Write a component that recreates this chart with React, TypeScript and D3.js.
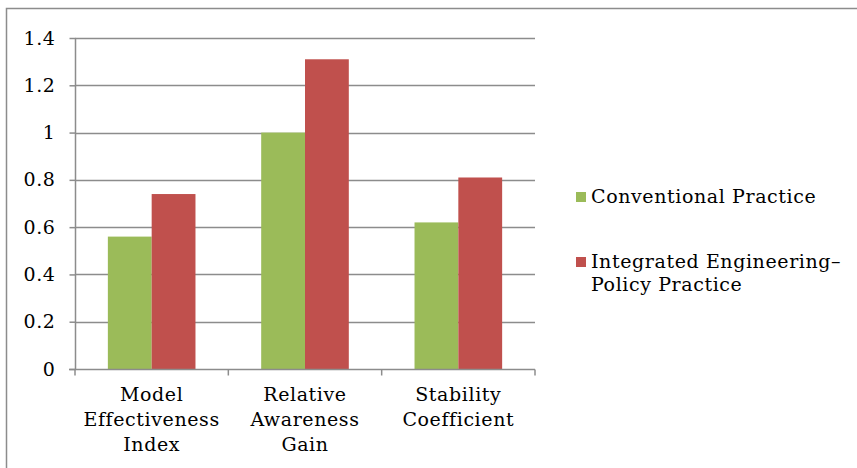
import React, { useEffect, useRef } from 'react';
import * as d3 from 'd3';

const categories = [
  ['Model', 'Effectiveness', 'Index'],
  ['Relative', 'Awareness', 'Gain'],
  ['Stability', 'Coefficient'],
];
const seriesNames = [['Conventional Practice'], ['Integrated Engineering–', 'Policy Practice']];
const conventional = [0.56, 1.0, 0.62];
const integrated = [0.74, 1.31, 0.81];
const yTicks = [0, 0.2, 0.4, 0.6, 0.8, 1, 1.2, 1.4];
const colors = ['#9bbb59', '#c0504d'];

const FONT = '"DejaVu Serif", serif';
const FS = 19;
const LS = 0.6;

function App() {
  const svgRef = useRef<SVGSVGElement | null>(null);

  useEffect(() => {
    const svg = d3.select(svgRef.current);
    svg.selectAll('*').remove();

    // chart frame
    svg.append('rect')
      .attr('x', 6.5).attr('y', 8.5)
      .attr('width', 900).attr('height', 500)
      .attr('fill', '#fff')
      .attr('stroke', '#8c8c8c')
      .attr('stroke-width', 1.5);

    const left = 75, right = 535, top = 38, bottom = 369;

    const x = d3.scaleBand<number>()
      .domain(d3.range(categories.length))
      .range([left, right]);
    const y = d3.scaleLinear().domain([0, 1.4]).range([bottom, top]);

    // gridlines
    svg.append('g')
      .selectAll('line')
      .data(yTicks.filter(t => t > 0))
      .enter()
      .append('line')
      .attr('x1', left).attr('x2', right)
      .attr('y1', d => Math.round(y(d)) + 0.5)
      .attr('y2', d => Math.round(y(d)) + 0.5)
      .attr('stroke', '#8c8c8c')
      .attr('stroke-width', 1.5);

    // bars
    const bw = x.bandwidth() / 3.5;
    const series = [conventional, integrated];
    series.forEach((vals, si) => {
      svg.append('g')
        .selectAll('rect')
        .data(vals)
        .enter()
        .append('rect')
        .attr('x', (d, i) => (x(i) as number) + bw * 0.75 + si * bw)
        .attr('width', bw)
        .attr('y', d => y(d))
        .attr('height', d => bottom - y(d))
        .attr('fill', colors[si]);
    });

    // y axis
    const yAxis = svg.append('g')
      .attr('transform', `translate(${left + 0.5},0)`)
      .call(d3.axisLeft(y).tickValues(yTicks).tickSize(6).tickPadding(14).tickFormat(d => String(d)));
    yAxis.select('.domain').attr('stroke', '#8c8c8c').attr('stroke-width', 1.5).attr('d', `M0,${top}V${bottom}`);
    yAxis.selectAll('.tick line').attr('stroke', '#8c8c8c').attr('stroke-width', 1.5);
    yAxis.selectAll('.tick text')
      .attr('font-family', FONT).attr('font-size', FS).attr('letter-spacing', LS).attr('fill', '#000');

    // x axis
    const xAxis = svg.append('g')
      .attr('transform', `translate(0,${bottom + 0.5})`);
    xAxis.append('line')
      .attr('x1', left - 6).attr('x2', right)
      .attr('stroke', '#8c8c8c').attr('stroke-width', 1.5);
    const xTickPos = [left, ...d3.range(categories.length).map(i => (x(i) as number) + x.bandwidth())];
    xAxis.selectAll('line.tk')
      .data(xTickPos)
      .enter()
      .append('line')
      .attr('class', 'tk')
      .attr('x1', d => d).attr('x2', d => d)
      .attr('y1', 0).attr('y2', 6)
      .attr('stroke', '#8c8c8c').attr('stroke-width', 1.5);

    const lab = xAxis.selectAll('text.cat')
      .data(categories)
      .enter()
      .append('text')
      .attr('class', 'cat')
      .attr('x', (d, i) => (x(i) as number) + x.bandwidth() / 2)
      .attr('y', 31)
      .attr('text-anchor', 'middle')
      .attr('font-family', FONT).attr('font-size', FS).attr('letter-spacing', LS).attr('fill', '#000');
    lab.selectAll('tspan')
      .data((d, i) => d.map(s => ({ s, i })))
      .enter()
      .append('tspan')
      .attr('x', d => (x(d.i) as number) + x.bandwidth() / 2)
      .attr('dy', (d, j) => (j === 0 ? 0 : 25))
      .text(d => d.s);

    // legend
    const legendY = [203, 268];
    const lg = svg.append('g');
    seriesNames.forEach((lines, si) => {
      lg.append('rect')
        .attr('x', 576).attr('y', legendY[si] - 11)
        .attr('width', 10).attr('height', 10)
        .attr('fill', colors[si]);
      const t = lg.append('text')
        .attr('x', 591).attr('y', legendY[si])
        .attr('font-family', FONT).attr('font-size', FS).attr('letter-spacing', LS).attr('fill', '#000');
      lines.forEach((s, j) => {
        t.append('tspan').attr('x', 591).attr('dy', j === 0 ? 0 : 23).text(s);
      });
    });
  }, []);

  return (
    <svg
      ref={svgRef}
      width={857}
      height={468}
      style={{ position: 'absolute', left: 0, top: 0, display: 'block' }}
    />
  );
}

export default App;
